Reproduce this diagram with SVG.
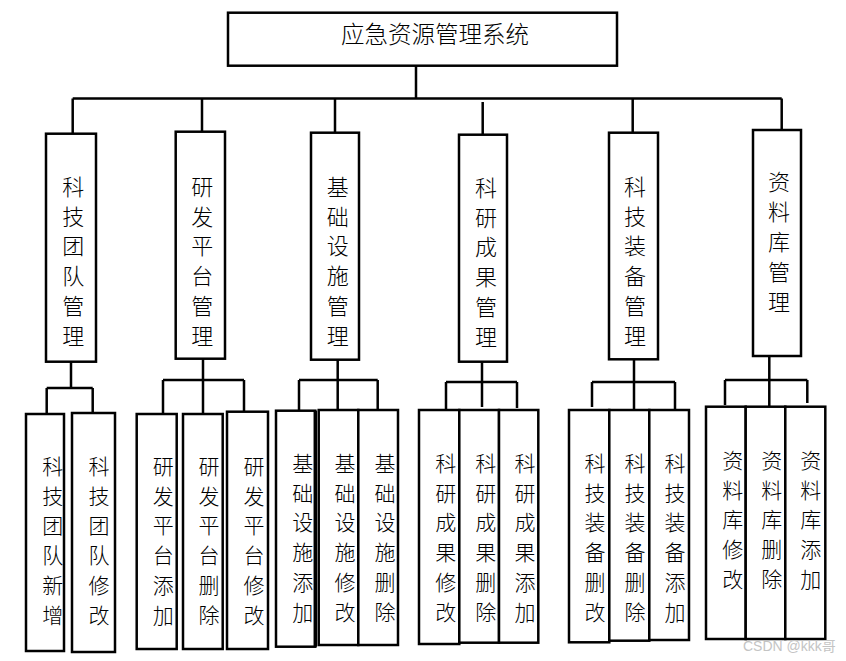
<svg xmlns="http://www.w3.org/2000/svg" width="846" height="661" viewBox="0 0 846 661">
<style>
.b{fill:#fff;stroke:#000;stroke-width:2.5}
.c{fill:none;stroke:#000;stroke-width:2.5}
.t{font-family:"Noto Sans CJK SC","Liberation Serif",serif;font-weight:300;fill:#000;text-anchor:middle}
.m{font-size:22px}
.l{font-size:21px}
.ttl{font-size:23.5px}
.wm{font-family:"Liberation Sans","Noto Sans CJK SC",sans-serif;font-size:14px;fill:#c4c4c4}
</style>
<rect width="846" height="661" fill="#fff"/>
<g id="connectors" class="c">
<path d="M416,66V98.5M72.7,98.5H781.7M72.7,98.5V133M202,98.5V131M335,98.5V133M482.7,102V134M632.7,98.5V133M781.7,98.5V130"/>
<path d="M71,362V388M46.7,388H92.7M46.7,388V414M92.7,388V413"/>
<path d="M203,359V380M163,380H244M163,380V414M203,380V414M244,380V411"/>
<path d="M337.7,360V380M299,380H377.7M299,380V410M337.7,380V410M377.7,380V410"/>
<path d="M482,362V382M446,382H517M446,382V410M482,382V407M517,382V408"/>
<path d="M634,360V382M592,382H675M592,382V407M634,382V410M675,382V410"/>
<path d="M769.3,356V380M725,380H807.3M725,380V405M769.3,380V407M807.3,380V403"/>
</g>
<g id="root"><rect class="b" x="228" y="12.7" width="389" height="53"/><text class="t ttl" x="435" y="43">应急资源管理系统</text></g>
<g id="n1"><rect class="b" x="46" y="133.7" width="50" height="228"/><text class="t m" x="73.3"><tspan x="73.3" y="195">科</tspan><tspan x="73.3" y="224.7">技</tspan><tspan x="73.3" y="254.4">团</tspan><tspan x="73.3" y="284.1">队</tspan><tspan x="73.3" y="313.8">管</tspan><tspan x="73.3" y="343.5">理</tspan></text></g>
<g id="n2"><rect class="b" x="175.7" y="131.7" width="49.3" height="227"/><text class="t m"><tspan x="202.3" y="195">研</tspan><tspan x="202.3" y="224.7">发</tspan><tspan x="202.3" y="254.4">平</tspan><tspan x="202.3" y="284.1">台</tspan><tspan x="202.3" y="313.8">管</tspan><tspan x="202.3" y="343.5">理</tspan></text></g>
<g id="n3"><rect class="b" x="311" y="132.7" width="48" height="227"/><text class="t m"><tspan x="337.7" y="195">基</tspan><tspan x="337.7" y="224.7">础</tspan><tspan x="337.7" y="254.4">设</tspan><tspan x="337.7" y="284.1">施</tspan><tspan x="337.7" y="313.8">管</tspan><tspan x="337.7" y="343.5">理</tspan></text></g>
<g id="n4"><rect class="b" x="459" y="134.7" width="48" height="227"/><text class="t m"><tspan x="486" y="196">科</tspan><tspan x="486" y="225.7">研</tspan><tspan x="486" y="255.4">成</tspan><tspan x="486" y="285.1">果</tspan><tspan x="486" y="314.8">管</tspan><tspan x="486" y="344.5">理</tspan></text></g>
<g id="n5"><rect class="b" x="609" y="132.7" width="49" height="226.6"/><text class="t m"><tspan x="635" y="195">科</tspan><tspan x="635" y="224.7">技</tspan><tspan x="635" y="254.4">装</tspan><tspan x="635" y="284.1">备</tspan><tspan x="635" y="313.8">管</tspan><tspan x="635" y="343.5">理</tspan></text></g>
<g id="n6"><rect class="b" x="753" y="130" width="48" height="226"/><text class="t m"><tspan x="779" y="190">资</tspan><tspan x="779" y="220">料</tspan><tspan x="779" y="250">库</tspan><tspan x="779" y="280">管</tspan><tspan x="779" y="310">理</tspan></text></g>
<g id="l1"><rect class="b" x="26" y="414" width="38" height="237"/><text class="t l"><tspan x="52.7" y="474">科</tspan><tspan x="52.7" y="503.7">技</tspan><tspan x="52.7" y="533.4">团</tspan><tspan x="52.7" y="563.1">队</tspan><tspan x="52.7" y="592.8">新</tspan><tspan x="52.7" y="622.5">增</tspan></text></g>
<g id="l2"><rect class="b" x="72" y="413" width="43" height="239"/><text class="t l"><tspan x="99" y="474">科</tspan><tspan x="99" y="503.7">技</tspan><tspan x="99" y="533.4">团</tspan><tspan x="99" y="563.1">队</tspan><tspan x="99" y="592.8">修</tspan><tspan x="99" y="622.5">改</tspan></text></g>
<g id="l3"><rect class="b" x="136.7" y="414" width="40" height="235"/><text class="t l"><tspan x="163.3" y="474">研</tspan><tspan x="163.3" y="503.7">发</tspan><tspan x="163.3" y="533.4">平</tspan><tspan x="163.3" y="563.1">台</tspan><tspan x="163.3" y="592.8">添</tspan><tspan x="163.3" y="622.5">加</tspan></text></g>
<g id="l4"><rect class="b" x="183" y="414" width="39.7" height="235"/><text class="t l"><tspan x="209" y="474">研</tspan><tspan x="209" y="503.7">发</tspan><tspan x="209" y="533.4">平</tspan><tspan x="209" y="563.1">台</tspan><tspan x="209" y="592.8">删</tspan><tspan x="209" y="622.5">除</tspan></text></g>
<g id="l5"><rect class="b" x="227" y="411.7" width="41" height="237.3"/><text class="t l"><tspan x="254" y="474">研</tspan><tspan x="254" y="503.7">发</tspan><tspan x="254" y="533.4">平</tspan><tspan x="254" y="563.1">台</tspan><tspan x="254" y="592.8">修</tspan><tspan x="254" y="622.5">改</tspan></text></g>
<g id="l6"><rect class="b" x="276" y="410.7" width="39.3" height="236"/><line x1="315.3" y1="410.7" x2="315.3" y2="646.7" stroke="#000" stroke-width="3.5"/><text class="t l"><tspan x="302.7" y="471">基</tspan><tspan x="302.7" y="500.7">础</tspan><tspan x="302.7" y="530.4">设</tspan><tspan x="302.7" y="560.1">施</tspan><tspan x="302.7" y="589.8">添</tspan><tspan x="302.7" y="619.5">加</tspan></text></g>
<g id="l7"><rect class="b" x="318.7" y="410" width="39.6" height="235"/><text class="t l"><tspan x="345" y="471">基</tspan><tspan x="345" y="500.7">础</tspan><tspan x="345" y="530.4">设</tspan><tspan x="345" y="560.1">施</tspan><tspan x="345" y="589.8">修</tspan><tspan x="345" y="619.5">改</tspan></text></g>
<g id="l8"><rect class="b" x="358.3" y="410" width="39.7" height="235"/><text class="t l"><tspan x="385" y="471">基</tspan><tspan x="385" y="500.7">础</tspan><tspan x="385" y="530.4">设</tspan><tspan x="385" y="560.1">施</tspan><tspan x="385" y="589.8">删</tspan><tspan x="385" y="619.5">除</tspan></text></g>
<g id="l9"><rect class="b" x="419" y="410" width="40.3" height="234"/><text class="t l"><tspan x="445.7" y="471">科</tspan><tspan x="445.7" y="500.7">研</tspan><tspan x="445.7" y="530.4">成</tspan><tspan x="445.7" y="560.1">果</tspan><tspan x="445.7" y="589.8">修</tspan><tspan x="445.7" y="619.5">改</tspan></text></g>
<g id="l10"><rect class="b" x="459.3" y="410" width="39.7" height="232.7"/><text class="t l"><tspan x="485.7" y="471">科</tspan><tspan x="485.7" y="500.7">研</tspan><tspan x="485.7" y="530.4">成</tspan><tspan x="485.7" y="560.1">果</tspan><tspan x="485.7" y="589.8">删</tspan><tspan x="485.7" y="619.5">除</tspan></text></g>
<g id="l11"><rect class="b" x="499" y="410" width="39.3" height="232.7"/><text class="t l"><tspan x="525" y="471">科</tspan><tspan x="525" y="500.7">研</tspan><tspan x="525" y="530.4">成</tspan><tspan x="525" y="560.1">果</tspan><tspan x="525" y="589.8">添</tspan><tspan x="525" y="619.5">加</tspan></text></g>
<g id="l12"><rect class="b" x="569" y="410" width="40.3" height="232.3"/><text class="t l"><tspan x="595" y="471">科</tspan><tspan x="595" y="500.7">技</tspan><tspan x="595" y="530.4">装</tspan><tspan x="595" y="560.1">备</tspan><tspan x="595" y="589.8">删</tspan><tspan x="595" y="619.5">改</tspan></text></g>
<g id="l13"><rect class="b" x="609.3" y="410" width="40" height="230.7"/><text class="t l"><tspan x="635" y="471">科</tspan><tspan x="635" y="500.7">技</tspan><tspan x="635" y="530.4">装</tspan><tspan x="635" y="560.1">备</tspan><tspan x="635" y="589.8">删</tspan><tspan x="635" y="619.5">除</tspan></text></g>
<g id="l14"><rect class="b" x="649.3" y="410" width="39.7" height="230"/><text class="t l"><tspan x="675" y="471">科</tspan><tspan x="675" y="500.7">技</tspan><tspan x="675" y="530.4">装</tspan><tspan x="675" y="560.1">备</tspan><tspan x="675" y="589.8">添</tspan><tspan x="675" y="619.5">加</tspan></text></g>
<g id="l15"><rect class="b" x="706" y="406.7" width="39.7" height="232.3"/><text class="t l"><tspan x="732.7" y="468">资</tspan><tspan x="732.7" y="497.7">料</tspan><tspan x="732.7" y="527.4">库</tspan><tspan x="732.7" y="557.1">修</tspan><tspan x="732.7" y="586.8">改</tspan></text></g>
<g id="l16"><rect class="b" x="745.7" y="406.7" width="39.6" height="232.3"/><text class="t l"><tspan x="771.7" y="468">资</tspan><tspan x="771.7" y="497.7">料</tspan><tspan x="771.7" y="527.4">库</tspan><tspan x="771.7" y="557.1">删</tspan><tspan x="771.7" y="586.8">除</tspan></text></g>
<g id="l17"><rect class="b" x="785.3" y="406.7" width="40" height="232.3"/><text class="t l"><tspan x="810.7" y="468">资</tspan><tspan x="810.7" y="497.7">料</tspan><tspan x="810.7" y="527.4">库</tspan><tspan x="810.7" y="557.1">添</tspan><tspan x="810.7" y="586.8">加</tspan></text></g>
<text class="wm" x="743" y="651">CSDN @kkk哥</text>
</svg>
